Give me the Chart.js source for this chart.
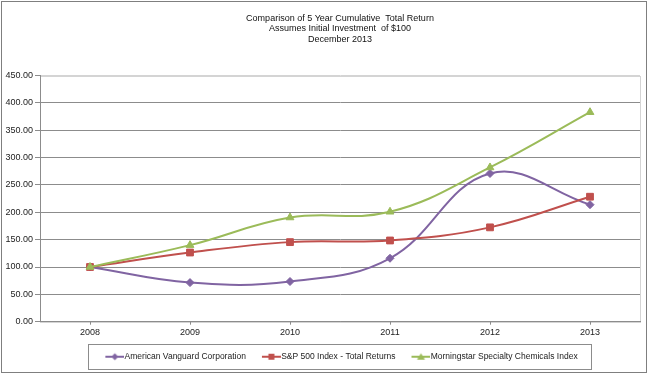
<!DOCTYPE html>
<html>
<head>
<meta charset="utf-8">
<script src="https://cdn.jsdelivr.net/npm/chart.js@4.4.1/dist/chart.umd.min.js"></script>
<style>
  html, body { margin: 0; padding: 0; background: #fff; }
  #wrap { position: relative; width: 649px; height: 375px; }
</style>
</head>
<body>
<div id="wrap"><canvas id="returnChart" width="649" height="375"></canvas></div>
<script>
// Data
const years = ['2008', '2009', '2010', '2011', '2012', '2013'];
const americanVanguard = [100, 71.5, 73.5, 116, 271, 214];
const sp500Total = [100, 126.5, 145.5, 148.5, 172.5, 228.5];
const morningstarChem = [100, 140, 190.5, 201, 282, 383];
const seriesNames = ['American Vanguard Corporation', 'S&P 500 Index - Total Returns', 'Morningstar Specialty Chemicals Index'];
const titleLines = ['Comparison of 5 Year Cumulative  Total Return', 'Assumes Initial Investment  of $100', 'December 2013'];
const yTicks = [0, 50, 100, 150, 200, 250, 300, 350, 400, 450];

const FONT = 'Liberation Sans';
const GRID = '#8c8c8c';

// small legend swatch: line with marker, drawn on its own canvas
function makeSwatch(color, shape) {
    const c = document.createElement('canvas');
    c.width = 26; c.height = 10;
    const g = c.getContext('2d');
    g.strokeStyle = color;
    g.fillStyle = color;
    g.lineWidth = 2;
    g.beginPath();
    g.moveTo(7, 5); g.lineTo(26, 5);
    g.stroke();
    const cx = 16.5, cy = 5;
    g.beginPath();
    if (shape === 'diamond') {
        g.moveTo(cx, cy - 3.5); g.lineTo(cx + 3.5, cy); g.lineTo(cx, cy + 3.5); g.lineTo(cx - 3.5, cy);
    } else if (shape === 'square') {
        g.rect(cx - 3, cy - 3, 6, 6);
    } else {
        g.moveTo(cx, cy - 3.5); g.lineTo(cx + 4, cy + 3); g.lineTo(cx - 4, cy + 3);
    }
    g.closePath();
    g.fill();
    return c;
}

const colors = ['#8064A2', '#C0504D', '#9BBB59'];
const swatches = [
    makeSwatch(colors[0], 'diamond'),
    makeSwatch(colors[1], 'square'),
    makeSwatch(colors[2], 'triangle')
];

/* ── decoration: outer frame, plot border, legend box ── */
const framePlugin = {
    id: 'frames',
    beforeDraw(chart) {
        const { ctx, chartArea: a } = chart;
        ctx.save();
        ctx.fillStyle = '#fff';
        ctx.fillRect(0, 0, chart.width, chart.height);
        ctx.strokeStyle = '#d4d4d4';
        ctx.lineWidth = 1;
        ctx.strokeRect(Math.round(a.left) + 0.5, Math.round(a.top) + 0.5, Math.round(a.right - a.left), Math.round(a.bottom - a.top));
        ctx.restore();
    },
    afterDraw(chart) {
        const { ctx } = chart;
        ctx.save();
        ctx.strokeStyle = '#7f7f7f';
        ctx.lineWidth = 1;
        ctx.strokeRect(1.5, 1.5, chart.width - 4, chart.height - 4);

        const boxes = chart.legend.legendHitBoxes;
        if (boxes && boxes.length) {
            const first = boxes[0], last = boxes[boxes.length - 1];
            const cy = first.top + first.height / 2;
            const x0 = Math.round(first.left - 14) + 0.5;
            const x1 = Math.round(last.left + last.width + 13) + 0.5;
            const y0 = Math.round(cy - 12.5) + 0.5;
            ctx.strokeStyle = '#8c8c8c';
            ctx.strokeRect(x0, y0, x1 - x0, 25);
        }
        ctx.restore();
    }
};

const datasets = [americanVanguard, sp500Total, morningstarChem].map((vals, i) => ({
    label: seriesNames[i],
    data: vals,
    borderColor: colors[i],
    backgroundColor: colors[i],
    pointBackgroundColor: colors[i],
    pointBorderColor: colors[i],
    pointStyle: ['rectRot', 'rect', 'triangle'][i],
    pointRadius: [4, 4.8, 4.5][i],
    pointBorderWidth: 1,
    borderWidth: 2,
    tension: 0.4,
    order: 3 - i
}));

new Chart(document.getElementById('returnChart'), {
    type: 'line',
    data: { labels: years, datasets },
    options: {
        responsive: false,
        animation: false,
        events: [],
        layout: { padding: { left: 0, right: 9, top: 0, bottom: 4 } },
        scales: {
            x: {
                offset: true,
                grid: { display: true, drawOnChartArea: false, color: GRID, tickLength: 3 },
                border: { color: GRID },
                ticks: { color: '#222', padding: 2, font: { family: FONT, size: 9 } }
            },
            y: {
                min: 0,
                max: 450,
                afterBuildTicks: (s) => { s.ticks = yTicks.map(v => ({ value: v })); },
                afterFit: (s) => { s.width = 40; },
                grid: {
                    color: (c) => c.tick && c.tick.value === 450 ? '#d4d4d4' : GRID,
                    tickColor: GRID,
                    tickLength: 5
                },
                border: { color: GRID },
                ticks: {
                    color: '#222',
                    padding: 2,
                    font: { family: FONT, size: 9 },
                    callback: (v) => Number(v).toFixed(2)
                }
            }
        },
        plugins: {
            title: {
                display: true,
                fullSize: false,
                text: titleLines,
                color: '#111',
                font: { family: FONT, size: 9, weight: 'normal', lineHeight: 1.17 },
                padding: { top: 13, bottom: 31 }
            },
            legend: {
                position: 'bottom',
                fullSize: false,
                labels: {
                    color: '#222',
                    font: { family: FONT, size: 8.5 },
                    usePointStyle: true,
                    pointStyleWidth: 18,
                    padding: 13,
                    generateLabels: (chart) => chart.data.datasets.map((ds, i) => ({
                        text: ds.label,
                        pointStyle: swatches[i],
                        fillStyle: colors[i],
                        strokeStyle: colors[i],
                        lineWidth: 0,
                        datasetIndex: i,
                        fontColor: '#222'
                    }))
                }
            },
            tooltip: { enabled: false }
        }
    },
    plugins: [framePlugin]
});
</script>
</body>
</html>
